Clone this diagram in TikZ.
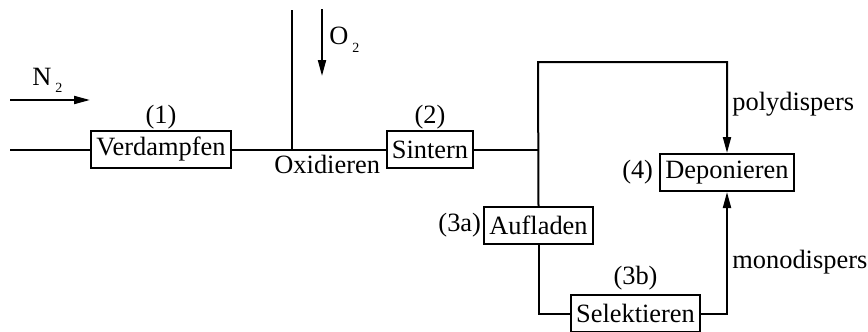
\documentclass[tikz,border=0pt]{standalone}
\usepackage{fontspec}
\setmainfont{Liberation Serif}
\usetikzlibrary{arrows.meta, positioning}

\newcommand{\lowsub}[1]{\hspace{2pt}\raisebox{-3.5pt}{\fontsize{7}{8}\selectfont #1}}

\begin{document}
\begin{tikzpicture}[
    x=0.5pt, y=-0.5pt,
    every node/.style={font=\fontsize{13.2}{16}\selectfont},
    block/.style={rectangle, draw, line width=1pt, minimum height=18.5pt, inner xsep=2.5pt, inner ysep=0pt},
    lbl/.style={inner sep=0pt},
    line/.style={line width=1pt},
    arrow/.style={line width=1pt, -{Triangle[length=8pt, width=4pt]}}
]
\useasboundingbox (0,0) rectangle (868,332);
% process steps
\node[block] (verd) at (161,149.5) {Verdampfen};
\node[block] (sint) at (430,149.5) {Sintern};
\node[block] (auf) at (538.5,225.5) {Aufladen};
\node[block] (sel) at (635.5,313.5) {Selektieren};
\node[block] (dep) at (727,172.5) {Deponieren};
\node[lbl, above=0pt of verd] (num1) {(1)};
\node[lbl, above=0pt of sint] (num2) {(2)};
\node[lbl, left=1pt of auf] (num3a) {(3a)};
\node[lbl, above=1.5pt of sel] (num3b) {(3b)};
\node[lbl, left=3pt of dep] (num4) {(4)};
% free texts
\node[lbl, anchor=base west] (ntwo) at (32,85) {N\lowsub{2}};
\node[lbl, anchor=base west] (otwo) at (329,45) {O\lowsub{2}};
\node[lbl, anchor=base west] (oxid) at (274,173) {Oxidieren};
\node[lbl, anchor=base west] (poly) at (732,110) {polydispers};
\node[lbl, anchor=base west] (mono) at (732,268) {monodispers};
% line ends
\coordinate (feed) at (10,149.5);
\coordinate (ntwos) at (10,100);
\coordinate (ntwoe) at (90,100);
\coordinate (oxtop) at (292,10);
\coordinate (oxjoin) at (292,149.5);
\coordinate (otwos) at (322,9);
\coordinate (otwoe) at (322,76);
\coordinate (split) at (538,149.5);
\coordinate (bypass) at (538,62);
% connections
\draw[line] (feed) -- (verd);
\draw[line] (verd) -- (sint);
\draw[line] (oxtop) -- (oxjoin);
\draw[arrow] (ntwos) -- (ntwoe);
\draw[arrow] (otwos) -- (otwoe);
\draw[line] (sint.east) -- (split);
\draw[arrow] (auf.north) -- (bypass) -| (dep.north);
\draw[line] (auf.south) |- (sel.west);
\draw[arrow] (sel.east) -| (dep.south);
\end{tikzpicture}
\end{document}
